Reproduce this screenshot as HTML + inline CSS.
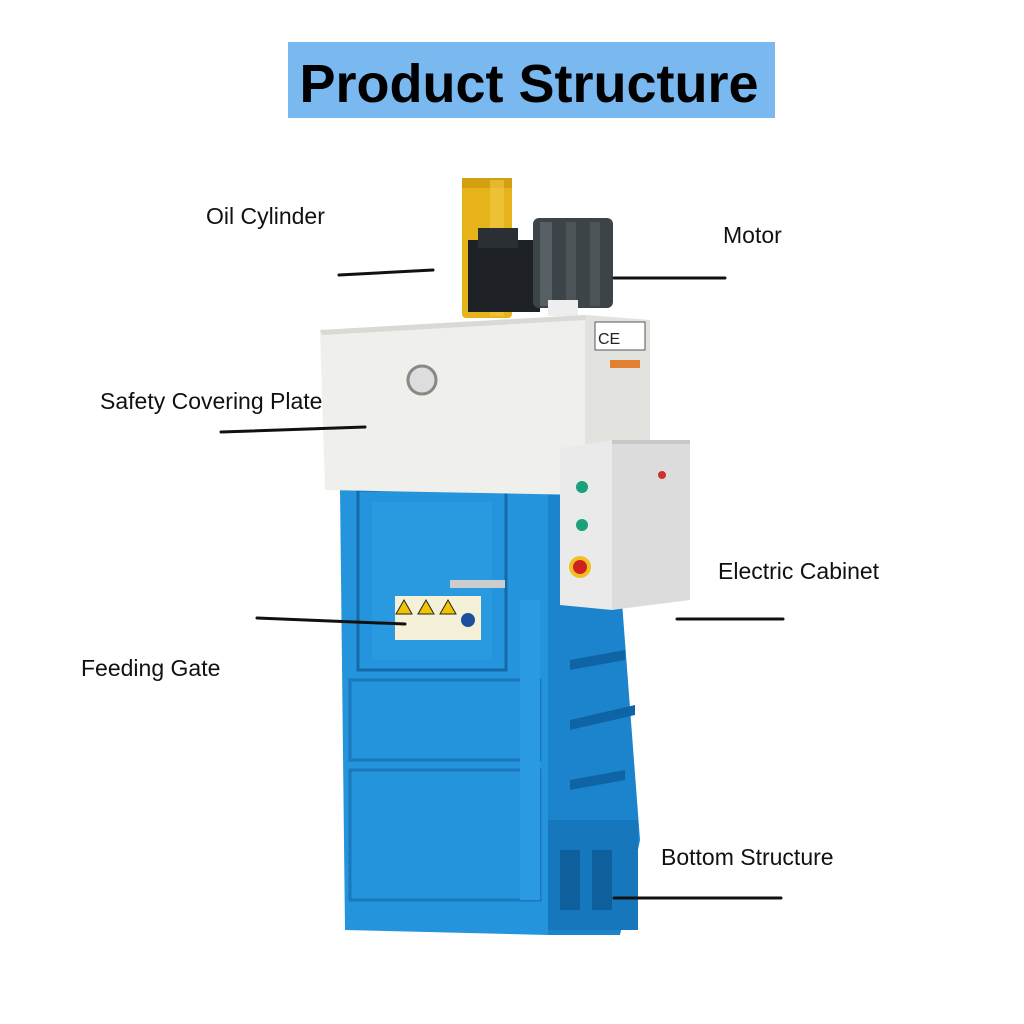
<!DOCTYPE html>
<html><head><meta charset="utf-8"><style>
html,body{margin:0;padding:0;background:#fff;width:1024px;height:1024px;overflow:hidden}
svg{display:block}
text{font-family:"Liberation Sans",sans-serif}
</style></head><body>
<svg width="1024" height="1024" viewBox="0 0 1024 1024" xmlns="http://www.w3.org/2000/svg">
<rect width="1024" height="1024" fill="#fff"/>
<rect x="288" y="42" width="487" height="76" fill="#7ab8f0"/>
<text x="529" y="102" text-anchor="middle" font-size="54" font-weight="bold" fill="#000">Product Structure</text>

<!-- yellow cylinder -->
<rect x="462" y="178" width="50" height="140" rx="4" fill="#e6b31a"/>
<rect x="462" y="178" width="50" height="10" fill="#d49f10"/>
<rect x="490" y="180" width="14" height="136" fill="#f2c94a" opacity="0.6"/>
<!-- pump -->
<rect x="468" y="240" width="72" height="72" fill="#1e2226"/>
<rect x="478" y="228" width="40" height="20" fill="#2a2f33"/>
<!-- motor -->
<rect x="533" y="218" width="80" height="90" rx="6" fill="#3c4448"/>
<rect x="540" y="222" width="12" height="84" fill="#565f64"/>
<rect x="566" y="222" width="10" height="84" fill="#4c5458"/>
<rect x="590" y="222" width="10" height="84" fill="#4c5458"/>
<rect x="548" y="300" width="30" height="16" fill="#eee"/>

<!-- blue body -->
<polygon points="340,488 548,488 548,935 345,930" fill="#2494dc"/>
<polygon points="548,488 612,470 640,840 620,935 548,935" fill="#1c84cc"/>
<rect x="358" y="490" width="148" height="180" fill="none" stroke="#136aa8" stroke-width="3"/>
<rect x="372" y="502" width="120" height="158" fill="#2a9ae0"/>
<rect x="350" y="680" width="190" height="80" fill="none" stroke="#1a78bd" stroke-width="3"/>
<rect x="350" y="770" width="190" height="130" fill="none" stroke="#1a78bd" stroke-width="3"/>
<rect x="520" y="600" width="20" height="300" fill="#2a9be2"/>
<rect x="548" y="820" width="90" height="110" fill="#1677bd"/>
<rect x="560" y="850" width="20" height="60" fill="#0e5f9c"/>
<rect x="592" y="850" width="20" height="60" fill="#0e5f9c"/>
<polygon points="570,660 625,650 625,660 570,670" fill="#0f64a6"/>
<polygon points="570,720 635,705 635,715 570,730" fill="#0f64a6"/>
<polygon points="570,780 625,770 625,780 570,790" fill="#0f64a6"/>
<!-- warning labels -->
<rect x="395" y="596" width="86" height="44" fill="#f4f1d8"/>
<polygon points="404,600 412,614 396,614" fill="#f0c400" stroke="#222"/>
<polygon points="426,600 434,614 418,614" fill="#f0c400" stroke="#222"/>
<polygon points="448,600 456,614 440,614" fill="#f0c400" stroke="#222"/>
<circle cx="468" cy="620" r="7" fill="#1d4f9c"/>
<rect x="450" y="580" width="55" height="8" fill="#ccc"/>

<!-- white cover -->
<polygon points="320,330 585,315 650,320 650,440 585,495 325,490" fill="#efefec"/>
<polygon points="585,315 650,320 650,440 585,445" fill="#e2e2de"/>
<polygon points="320,330 585,315 585,320 322,335" fill="#d9d9d5"/>
<circle cx="422" cy="380" r="14" fill="#ddd" stroke="#888" stroke-width="3"/>
<rect x="595" y="322" width="50" height="28" fill="#fff" stroke="#555"/>
<text x="598" y="344" font-size="16" fill="#222">CE</text>
<rect x="610" y="360" width="30" height="8" fill="#e08030"/>

<!-- electric cabinet -->
<polygon points="560,448 612,440 612,610 560,605" fill="#eaeaea"/>
<polygon points="612,440 690,440 690,600 612,610" fill="#dcdcdc"/>
<rect x="612" y="440" width="78" height="4" fill="#c8c8c8"/>
<circle cx="582" cy="487" r="6" fill="#1aa07a"/>
<circle cx="582" cy="525" r="6" fill="#1aa07a"/>
<circle cx="580" cy="567" r="11" fill="#f0c020"/>
<circle cx="580" cy="567" r="7" fill="#d02020"/>
<circle cx="662" cy="475" r="4" fill="#d03030"/>

<!-- lines -->
<g stroke="#111" stroke-width="3" stroke-linecap="round">
<line x1="339" y1="275" x2="433" y2="270"/>
<line x1="614" y1="278" x2="725" y2="278"/>
<line x1="221" y1="432" x2="365" y2="427"/>
<line x1="677" y1="619" x2="783" y2="619"/>
<line x1="257" y1="618" x2="405" y2="624"/>
<line x1="614" y1="898" x2="781" y2="898"/>
</g>
<g font-size="23" fill="#111">
<text x="206" y="224">Oil Cylinder</text>
<text x="723" y="243">Motor</text>
<text x="100" y="409">Safety Covering Plate</text>
<text x="718" y="579">Electric Cabinet</text>
<text x="81" y="676">Feeding Gate</text>
<text x="661" y="865">Bottom Structure</text>
</g>
</svg>
</body></html>
